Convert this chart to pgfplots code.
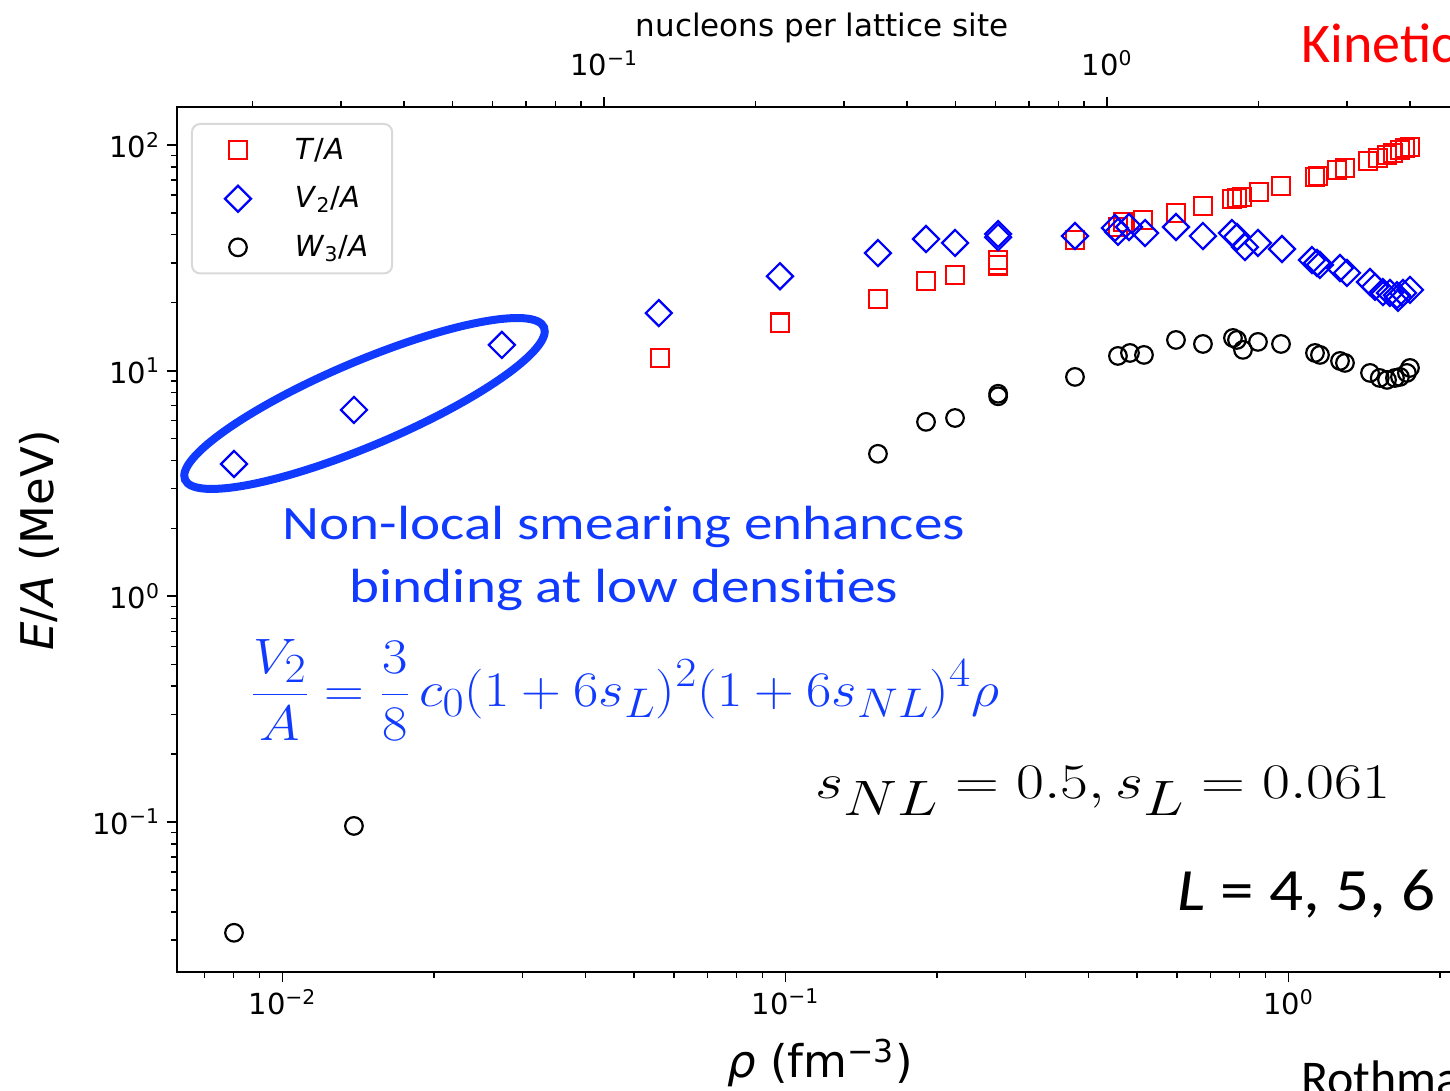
\documentclass[border=0pt]{standalone}
\usepackage[no-math]{fontspec}
\setmainfont{DejaVu Sans}
\newfontfamily\slidefont{Carlito}
\usepackage{pgfplots}
\usepackage{pgfplotstable}
\pgfplotsset{compat=1.18}
\definecolor{slideblue}{RGB}{16,58,255}
\definecolor{mred}{RGB}{255,0,0}
\definecolor{mblue}{RGB}{0,0,255}
\newcommand\tickfont{\fontsize{14.5}{17}\selectfont}

% T/A
\pgfplotstableread{
rho E
0.0563 11.38
0.0975 16.3
0.1527 20.8
0.1903 25.0
0.2173 26.5
0.2647 30.9
0.2647 29.3
0.3763 37.9
0.4581 43.3
0.469 45.6
0.5138 46.5
0.5975 50.0
0.676 53.7
0.772 57.7
0.790 58.2
0.8085 58.8
0.8738 61.9
0.9663 65.8
1.129 72.2
1.1445 72.9
1.2486 77.5
1.295 79.1
1.439 84.9
1.507 87.6
1.570 90.3
1.614 92.2
1.666 95.0
1.704 97.0
1.744 98.0
}\Ttab

% V2/A
\pgfplotstableread{
rho E
0.00801 3.86
0.01387 6.70
0.0273 13.0
0.0560 18.0
0.0975 26.2
0.1527 33.2
0.1903 38.3
0.2173 36.8
0.2647 40.3
0.2647 39.0
0.3763 39.5
0.4518 42.9
0.4581 41.2
0.4818 43.3
0.5186 40.7
0.5975 43.3
0.676 39.5
0.772 40.7
0.790 39.1
0.8193 35.3
0.8696 36.8
0.9707 34.6
1.1135 30.9
1.1394 30.0
1.155 29.4
1.266 28.5
1.307 27.1
1.4525 24.7
1.486 23.5
1.541 22.3
1.591 22.1
1.643 21.6
1.651 21.0
1.689 22.1
1.744 22.8
}\Vtab

% W3/A
\pgfplotstableread{
rho E
0.00801 0.0323
0.01387 0.0961
0.1527 4.28
0.1903 5.93
0.2173 6.17
0.2647 7.70
0.2647 7.90
0.3763 9.38
0.4581 11.62
0.4840 11.98
0.5161 11.74
0.5975 13.68
0.676 13.13
0.7757 13.96
0.790 13.68
0.812 12.36
0.8696 13.41
0.9663 13.13
1.129 11.98
1.155 11.74
1.266 11.04
1.295 10.82
1.4525 9.77
1.5185 9.28
1.570 9.10
1.628 9.28
1.666 9.38
1.7195 9.77
1.744 10.28
}\Wtab

\begin{document}
\begin{tikzpicture}
\begin{axis}[
  at={(88.5pt,59.5pt)}, anchor=south west,
  scale only axis, width=643pt, height=432.5pt,
  xmode=log, ymode=log,
  axis line style={line width=1.1pt},
  tick align=outside,
  major tick length=5pt, minor tick length=3pt,
  major tick style={line width=0.9pt, black},
  minor tick style={line width=0.7pt, black},
  ticklabel style={font=\tickfont},
  xmin=0.00617, xmax=2.223, ymin=0.02165, ymax=147.3,
  tick pos=left,
  xtick={0.01,0.1,1},
  xticklabels={10\textsuperscript{−2},10\textsuperscript{−1},10\textsuperscript{0}},
  minor xtick={0.007,0.008,0.009,0.02,0.03,0.04,0.05,0.06,0.07,0.08,0.09,0.2,0.3,0.4,0.5,0.6,0.7,0.8,0.9,2},
  ytick={0.1,1,10,100},
  yticklabels={10\textsuperscript{−1},10\textsuperscript{0},10\textsuperscript{1},10\textsuperscript{2}},
  minor ytick={0.03,0.04,0.05,0.06,0.07,0.08,0.09,0.2,0.3,0.4,0.5,0.6,0.7,0.8,0.9,2,3,4,5,6,7,8,9,20,30,40,50,60,70,80,90},
  legend style={at={(0.0109,0.9815)}, anchor=north west, draw=black!15,
    line width=1pt, rounded corners=4pt, font=\tickfont,
    inner xsep=10pt, inner ysep=5pt, row sep=8.25pt, column sep=13.5pt,
    nodes={inner sep=2pt}},
  legend cell align=left,
  legend image code/.code={\path[draw=none] (0pt,0pt) -- (26pt,0pt); \draw[#1] plot coordinates {(13pt,0pt)};},
]
\addplot[only marks, mark=square, mark size=4.6pt, color=mred, mark options={line width=1.1pt}]
  table[x=rho, y=E] {\Ttab};
\addlegendentry{\textit{T}/\textit{A}}
\addplot[only marks, mark=square, mark size=4.6pt, color=mblue, mark options={line width=1.1pt, rotate=45}]
  table[x=rho, y=E] {\Vtab};
\addlegendentry{\textit{V}\textsubscript{2}/\textit{A}}
\addplot[only marks, mark=o, mark size=4.4pt, color=black, mark options={line width=1.1pt}]
  table[x=rho, y=E] {\Wtab};
\addlegendentry{\textit{W}\textsubscript{3}/\textit{A}}
\end{axis}

\begin{axis}[
  at={(88.5pt,59.5pt)}, anchor=south west,
  scale only axis, width=643pt, height=432.5pt,
  xmode=log, ymode=log,
  axis line style={line width=1.1pt},
  tick align=outside,
  major tick length=5pt, minor tick length=3pt,
  major tick style={line width=0.9pt, black},
  minor tick style={line width=0.7pt, black},
  ticklabel style={font=\tickfont},
  xticklabel style={yshift=7pt},
  xmin=0.01416, xmax=5.10, ymin=0.02165, ymax=147.3,
  axis x line*=top, axis y line=none,
  xtick={0.1,1},
  xticklabels={10\textsuperscript{−1},10\textsuperscript{0}},
  minor xtick={0.02,0.03,0.04,0.05,0.06,0.07,0.08,0.09,0.2,0.3,0.4,0.5,0.6,0.7,0.8,0.9,2,3,4,5},
]
\addplot[draw=none] coordinates {(1,1)};
\end{axis}

\begin{scope}[x=0.5pt, y=-0.5pt, shift={(0pt,545.5pt)}]
  \node[anchor=base, inner sep=0, font=\fontsize{15.5}{18}\selectfont] at (822,37) {nucleons per lattice site};
  \node[anchor=base, inner sep=0, font=\fontsize{22.5}{26}\selectfont] at (820,1078) {\textit{ρ} (fm\textsuperscript{−3})};
  \node[anchor=base, inner sep=0, rotate=90, font=\fontsize{22.5}{26}\selectfont] at (53,540) {\textit{E}/\textit{A} (MeV)};
  \draw[slideblue, line width=4pt, rotate around={23:(364.5,403.5)}] (364.5,403.5) ellipse [x radius=97.5pt, y radius=21pt];
  \node[anchor=base, inner sep=0, text=slideblue] at (624,540) {\scalebox{1.19}[1]{\slidefont\fontsize{24}{28}\selectfont Non-local smearing enhances}};
  \node[anchor=base, inner sep=0, text=slideblue] at (624,603) {\scalebox{1.19}[1]{\slidefont\fontsize{24}{28}\selectfont binding at low densities}};
  \node[anchor=west, inner sep=0, text=slideblue] at (250,690) {\scalebox{1.107}[1]{\fontsize{29}{32}\selectfont$\displaystyle \frac{V_2}{A}=\frac{3}{8}\,c_0(1+6s_L)^2(1+6s_{NL})^4\rho$}};
  \node[anchor=base west, inner sep=0] at (815,799) {\scalebox{1.22}[1]{\fontsize{37}{40}\selectfont$s_{NL}=0.5, s_L=0.061$}};
  \node[anchor=base west, inner sep=0] at (1177,911) {\scalebox{1.12}[1]{\slidefont\fontsize{30}{34}\selectfont\textit{L} = 4, 5, 6}};
  \node[anchor=base west, inner sep=0, text=mred] at (1301,63) {\slidefont\fontsize{28}{30}\selectfont Kinetic};
  \node[anchor=base west, inner sep=0] at (1301,1096) {\slidefont\fontsize{25}{30}\selectfont Rothman};
\end{scope}
\pgfresetboundingbox
\path[use as bounding box] (0pt,0pt) rectangle (725pt,545.5pt);
\end{tikzpicture}
\end{document}
